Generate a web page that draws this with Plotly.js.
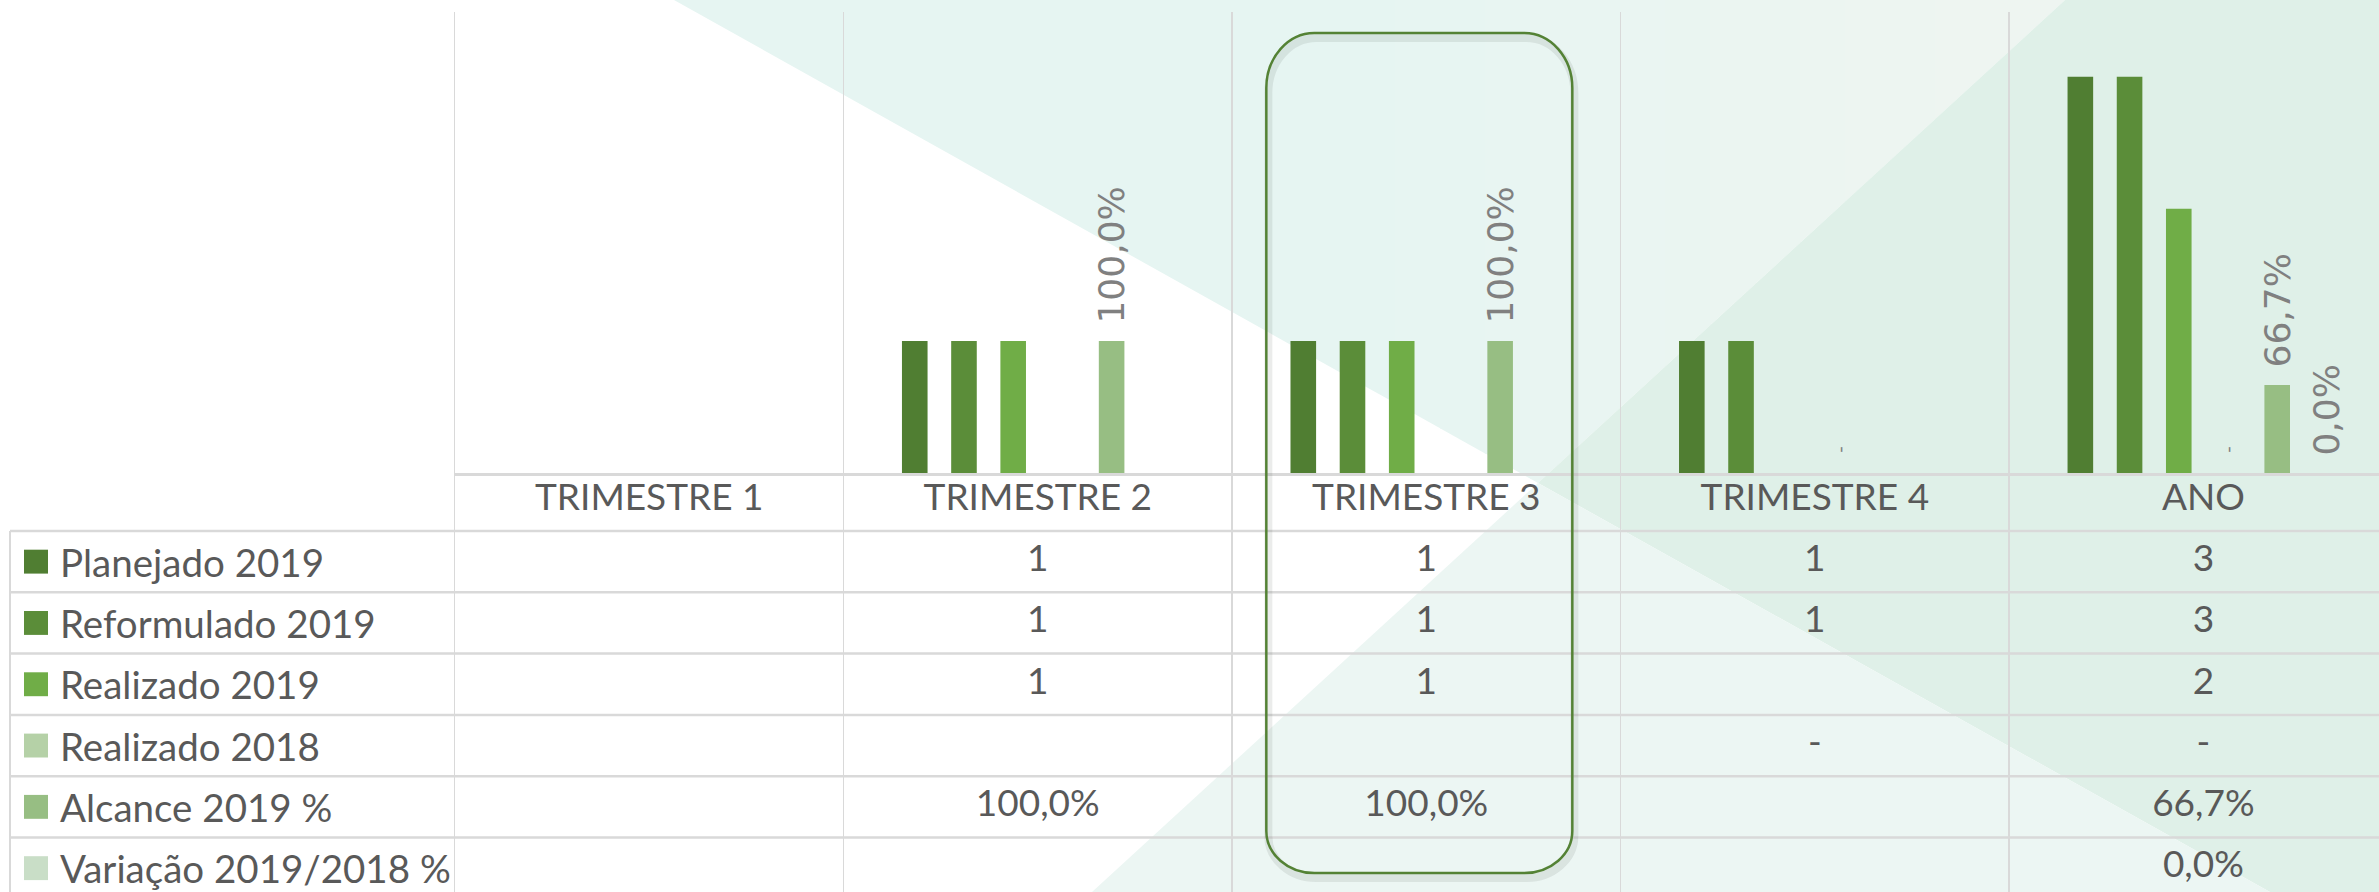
<!DOCTYPE html>
<html>
<head>
<meta charset="utf-8">
<script src="https://cdn.plot.ly/plotly-3.0.1.min.js"></script>
<style>
  html, body { margin: 0; padding: 0; overflow: hidden; background: #ffffff; }
  #chart { width: 2379px; height: 892px; }
</style>
</head>
<body>
<div id="chart"></div>
<script>
// ---------- DATA ----------
const categories = ['TRIMESTRE 1', 'TRIMESTRE 2', 'TRIMESTRE 3', 'TRIMESTRE 4', 'ANO'];
const seriesNames = ['Planejado 2019', 'Reformulado 2019', 'Realizado 2019', 'Realizado 2018', 'Alcance 2019 %', 'Variação 2019/2018 %'];
const planejado2019   = [null, 1, 1, 1, 3];
const reformulado2019 = [null, 1, 1, 1, 3];
const realizado2019   = [null, 1, 1, null, 2];
const realizado2018   = [null, null, null, 0, 0];
const alcance2019     = [null, 1, 1, null, 0.667];
const variacao2019_2018 = [null, null, null, null, 0];
const highlightedCategory = 'TRIMESTRE 3';

// ---------- STYLE ----------
const seriesColors = ['#507e32', '#5b8d39', '#70ad47', '#b5d1a7', '#97be83', '#c9dec7'];
const textGray = '#595959';
const labelGray = '#808080';
const gridGray = '#d9d9d9';

const W = 2379, H = 892, ML = 455, MT = 12;
const plotW = W - ML, plotH = H - MT;
const px = x => (x - ML) / plotW;
const py = y => (H - y) / plotH;
const barDomainBottom = (H - 473) / plotH;

const fmtCount = v => (v === null || v === undefined) ? '' : (v === 0 ? '-' : String(v));
const fmtPct = v => (v === null || v === undefined) ? '' : (v * 100).toFixed(1).replace('.', ',') + '%';

const seriesData = [planejado2019, reformulado2019, realizado2019, realizado2018, alcance2019, variacao2019_2018];
const seriesFmt = [fmtCount, fmtCount, fmtCount, fmtCount, fmtPct, fmtPct];
const seriesHasLabel = [false, false, false, true, true, true];

const traces = [];
seriesData.forEach((arr, s) => {
  const t = {
    type: 'bar',
    name: seriesNames[s],
    x: categories,
    y: arr,
    xaxis: 'x', yaxis: 'y',
    marker: { color: seriesColors[s] },
    hoverinfo: 'skip',
    cliponaxis: false,
    showlegend: false
  };
  if (seriesHasLabel[s]) {
    const pre = s === 3 ? '\u00a0\u00a0\u00a0' : '\u2009\u2009';
    t.text = arr.map(v => { const f = seriesFmt[s](v); return f ? pre + f : ''; });
    t.textposition = 'outside';
    t.textangle = -90;
    t.constraintext = 'none';
    t.textfont = { family: 'DejaVu Sans', size: s === 3 ? 18 : 36, color: labelGray };
  }
  traces.push(t);
});

// table text (header + values)
const tx = [], ty = [], tt = [];
categories.forEach(c => { tx.push(c); ty.push(0); tt.push(c); });
seriesData.forEach((arr, r) => {
  arr.forEach((v, i) => {
    const s = seriesFmt[r](v);
    if (s) { tx.push(categories[i]); ty.push(r + 1); tt.push(s); }
  });
});
traces.push({
  type: 'scatter', mode: 'text',
  x: tx, y: ty, text: tt,
  xaxis: 'x2', yaxis: 'y2',
  textposition: 'middle center',
  textfont: { family: 'Lato', size: 37, color: textGray },
  hoverinfo: 'skip', showlegend: false, cliponaxis: false
});

// ---------- SHAPES ----------
const shapes = [];
const poly = (pts, color) => ({
  type: 'path', xref: 'paper', yref: 'paper', layer: 'below',
  path: 'M' + pts.map(p => px(p[0]) + ',' + py(p[1])).join(' L') + ' Z',
  fillcolor: color, line: { width: 0 }
});
function clipHalf(pts, test, inter) {
  const out = [];
  for (let i = 0; i < pts.length; i++) {
    const a = pts[i], b = pts[(i + 1) % pts.length];
    const ia = test(a), ib = test(b);
    if (ia) out.push(a);
    if (ia !== ib) out.push(inter(a, b));
  }
  return out;
}
function clipBand(pts, x0, x1) {
  const ix = xv => (a, b) => { const t = (xv - a[0]) / (b[0] - a[0]); return [xv, a[1] + t * (b[1] - a[1])]; };
  let p = clipHalf(pts, q => q[0] >= x0, ix(x0));
  p = clipHalf(p, q => q[0] <= x1, ix(x1));
  return p;
}
// background decoration
const triB = [[674, 0], [2065, 0], [1538, 483]];
const cA = [230, 245, 242], cB = [238, 245, 241];
const gx0 = 1350, gx1 = 1980, nb = 14;
shapes.push(poly(clipBand(triB, 600, gx0 + 1), 'rgb(' + cA.join(',') + ')'));
for (let k = 0; k < nb; k++) {
  const a = gx0 + (gx1 - gx0) * k / nb, b = gx0 + (gx1 - gx0) * (k + 1) / nb;
  const t = (k + 0.5) / nb;
  const c = cA.map((v, j) => Math.round(v + (cB[j] - v) * t));
  const p = clipBand(triB, a, b + 1);
  if (p.length > 2) shapes.push(poly(p, 'rgb(' + c.join(',') + ')'));
}
shapes.push(poly(clipBand(triB, gx1, 2100), 'rgb(' + cB.join(',') + ')'));
shapes.push(poly([[2065, 0], [2379, 0], [2379, 892], [2270, 892], [1538, 483]], '#dff0e8'));
shapes.push(poly([[1538, 483], [2270, 892], [1092, 892]], '#ecf6f3'));

// table row lines
for (let r = 0; r < seriesNames.length; r++) {
  shapes.push({
    type: 'line', xref: 'paper', yref: 'y2', layer: 'below',
    x0: px(10), x1: 1, y0: r + 0.5, y1: r + 0.5,
    line: { color: gridGray, width: 2.5 }
  });
}
// table left border
shapes.push({
  type: 'line', xref: 'paper', yref: 'y2', layer: 'below',
  x0: px(10), x1: px(10), y0: 0.5, y1: seriesNames.length + 0.5,
  line: { color: gridGray, width: 2 }
});
// legend keys
seriesNames.forEach((n, r) => {
  shapes.push({
    type: 'rect', xref: 'paper', yref: 'y2', layer: 'above',
    x0: px(24), x1: px(48), y0: r + 1 - 0.195, y1: r + 1 + 0.195,
    fillcolor: seriesColors[r], line: { width: 0 }
  });
});

// highlight rounded rectangle around the highlighted category
const hi = categories.indexOf(highlightedCategory);
const catW = plotW / 4.952;
const cx = ML + (hi + 0.5) * catW;
function roundRect(x0, x1, y0, y1, rx, ryT, ryB, dy) {
  const k = 0.552;
  const P = (x, y) => px(x) + ',' + py(y + dy);
  return 'M' + P(x0 + rx, y0) +
    ' L' + P(x1 - rx, y0) +
    ' C' + P(x1 - rx + k * rx, y0) + ' ' + P(x1, y0 + ryT - k * ryT) + ' ' + P(x1, y0 + ryT) +
    ' L' + P(x1, y1 - ryB) +
    ' C' + P(x1, y1 - ryB + k * ryB) + ' ' + P(x1 - rx + k * rx, y1) + ' ' + P(x1 - rx, y1) +
    ' L' + P(x0 + rx, y1) +
    ' C' + P(x0 + rx - k * rx, y1) + ' ' + P(x0, y1 - ryB + k * ryB) + ' ' + P(x0, y1 - ryB) +
    ' L' + P(x0, y0 + ryT) +
    ' C' + P(x0, y0 + ryT - k * ryT) + ' ' + P(x0 + rx - k * rx, y0) + ' ' + P(x0 + rx, y0) + ' Z';
}
const hx0 = cx - 160, hx1 = cx + 146;
shapes.push({
  type: 'path', xref: 'paper', yref: 'paper', layer: 'above',
  path: roundRect(hx0 + 2, hx1 + 2, 33, 873, 48, 55, 42, 5),
  line: { color: 'rgba(60,70,60,0.10)', width: 8 }
});
shapes.push({
  type: 'path', xref: 'paper', yref: 'paper', layer: 'above',
  path: roundRect(hx0, hx1, 33, 873, 48, 55, 42, 0),
  line: { color: '#548235', width: 2.5 }
});

// row label annotations
const annotations = seriesNames.map((n, r) => ({
  xref: 'paper', yref: 'y2', x: px(58), y: r + 1,
  xanchor: 'left', yanchor: 'middle', showarrow: false,
  text: n, font: { family: 'Lato', size: 38.5, color: textGray }
}));

const layout = {
  width: W, height: H,
  margin: { l: ML, r: 0, t: MT, b: 0, pad: 0 },
  paper_bgcolor: '#ffffff',
  plot_bgcolor: 'rgba(0,0,0,0)',
  barmode: 'group',
  bargap: 0.24,
  bargroupgap: 0.48,
  showlegend: false,
  xaxis: {
    type: 'category', domain: [0, 1], anchor: 'y',
    range: [-0.5, 4.452],
    tickson: 'boundaries', showgrid: true, gridcolor: gridGray, gridwidth: 1.5,
    showticklabels: false, ticks: '',
    showline: true, linecolor: gridGray, linewidth: 3,
    zeroline: false, fixedrange: true
  },
  yaxis: {
    domain: [barDomainBottom, 1], anchor: 'x',
    range: [0, 3.49],
    showgrid: false, zeroline: false, showticklabels: false, ticks: '',
    showline: true, linecolor: gridGray, linewidth: 1.5, fixedrange: true
  },
  xaxis2: {
    type: 'category', domain: [0, 1], anchor: 'y2', matches: 'x',
    tickson: 'boundaries', showgrid: true, gridcolor: gridGray, gridwidth: 1.5,
    showticklabels: false, ticks: '', showline: false, zeroline: false, fixedrange: true
  },
  yaxis2: {
    domain: [0, barDomainBottom], anchor: 'x2',
    range: [6.389, -0.446],
    showgrid: false, zeroline: false, showticklabels: false, ticks: '',
    showline: true, linecolor: gridGray, linewidth: 1.5, fixedrange: true
  },
  shapes: shapes,
  annotations: annotations,
  font: { family: 'Lato', color: textGray }
};

Plotly.newPlot('chart', traces, layout, { staticPlot: true, displayModeBar: false });
</script>
</body>
</html>
